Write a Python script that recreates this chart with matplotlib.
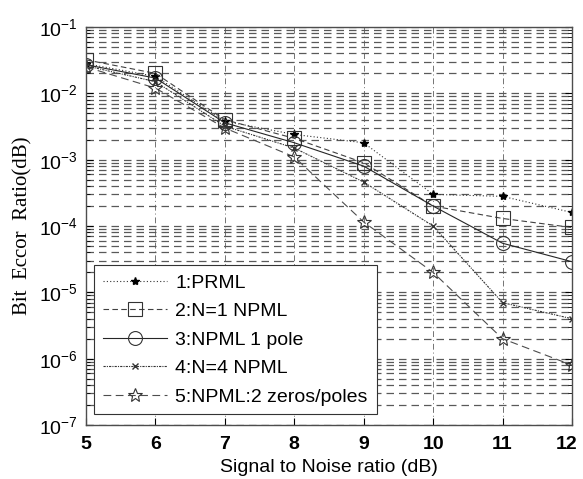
import numpy as np
import matplotlib
matplotlib.use("Agg")
import matplotlib.pyplot as plt
from matplotlib.transforms import ScaledTranslation

# SNR axis (dB)
snr = [5, 6, 7, 8, 9, 10, 11, 12]

# bit error ratio per detector
ber_prml = [2.8e-2, 1.8e-2, 3.8e-3, 2.4e-3, 1.8e-3, 3.0e-4, 2.8e-4, 1.6e-4]
ber_npml1 = [3.2e-2, 2.0e-2, 4.0e-3, 2.1e-3, 9.0e-4, 2.0e-4, 1.3e-4, 9.5e-5]
ber_pole1 = [2.7e-2, 1.7e-2, 3.6e-3, 1.8e-3, 8.0e-4, 2.0e-4, 5.5e-5, 2.9e-5]
ber_npml4 = [2.6e-2, 1.5e-2, 3.2e-3, 1.5e-3, 4.6e-4, 1.0e-4, 7.0e-6, 4.0e-6]
ber_zp2 = [2.5e-2, 1.2e-2, 3.0e-3, 1.1e-3, 1.15e-4, 2.0e-5, 2.0e-6, 8.0e-7]

labels = ["1:PRML", "2:N=1 NPML", "3:NPML 1 pole", "4:N=4 NPML",
          "5:NPML:2 zeros/poles"]

plt.rcParams["font.family"] = ["Liberation Sans", "DejaVu Sans"]
plt.rcParams["mathtext.fontset"] = "custom"
plt.rcParams["mathtext.rm"] = "Liberation Sans:weight=bold"
plt.rcParams["mathtext.it"] = "Liberation Sans:weight=bold"
plt.rcParams["mathtext.bf"] = "Liberation Sans:weight=bold"

fig = plt.figure(figsize=(5.83, 4.79), dpi=100)
ax = fig.add_axes([0.1475, 0.1127, 0.8335, 0.8309])

lw = 0.8
ax.plot(snr, ber_prml, linestyle=(0, (1, 2)), color="0.2", lw=lw,
        marker="*", ms=6, mfc="k", mec="k", label=labels[0])
ax.plot(snr, ber_npml1, linestyle=(0, (5, 3)), color="0.25", lw=lw,
        marker="s", ms=10, mfc="none", mec="0.2", mew=0.8, label=labels[1])
ax.plot(snr, ber_pole1, linestyle="-", color="0.15", lw=lw,
        marker="o", ms=10, mfc="none", mec="0.2", mew=0.8, label=labels[2])
ax.plot(snr, ber_npml4, linestyle=(0, (2, 1, 1, 1)), color="0.2", lw=lw,
        marker="x", ms=5, mec="0.2", label=labels[3])
ax.plot(snr, ber_zp2, linestyle=(0, (7, 4)), color="0.3", lw=lw,
        marker="*", ms=10, mfc="none", mec="0.2", mew=0.8, label=labels[4])

ax.set_yscale("log")
ax.set_xlim(5, 12)
ax.set_ylim(1e-7, 1e-1)
ax.set_xticks(snr)

ax.grid(True, which="major", axis="x", linestyle=(0, (6, 3, 1, 3)),
        color="0.45", lw=0.7)
ax.grid(True, which="both", axis="y", linestyle=(0, (6, 4)),
        color="0.35", lw=0.9)

ax.tick_params(which="both", direction="in", top=False, right=True)
ax.tick_params(which="major", length=5)
ax.tick_params(which="minor", length=3)
ax.tick_params(axis="x", labelsize=14, pad=8)
ax.tick_params(axis="y", labelsize=14, pad=6)
for lab in ax.get_xticklabels():
    lab.set_fontweight("bold")
# pull the last x label in a bit, as in the original
last = ax.get_xticklabels()[-1]
last.set_transform(last.get_transform() +
                   ScaledTranslation(-5 / 100, 0, fig.dpi_scale_trans))

for s in ax.spines.values():
    s.set_color("0.3")
    s.set_linewidth(1.0)

ax.set_xlabel("Signal to Noise ratio (dB)", fontsize=14, labelpad=4)
ax.set_ylabel("Bit  Eccor  Ratio(dB)", fontsize=15,
              family=["Liberation Serif", "DejaVu Serif"])
ax.yaxis.set_label_coords(-0.11, 0.5)

leg = ax.legend(loc="lower left", bbox_to_anchor=(0.016, 0.027),
                borderaxespad=0, fancybox=False, framealpha=1,
                edgecolor="0.2", fontsize=14, handlelength=3.3,
                labelspacing=0.56, borderpad=0.45, handletextpad=0.45)
leg.get_frame().set_linewidth(0.8)

fig.savefig("out.png", dpi=100)
